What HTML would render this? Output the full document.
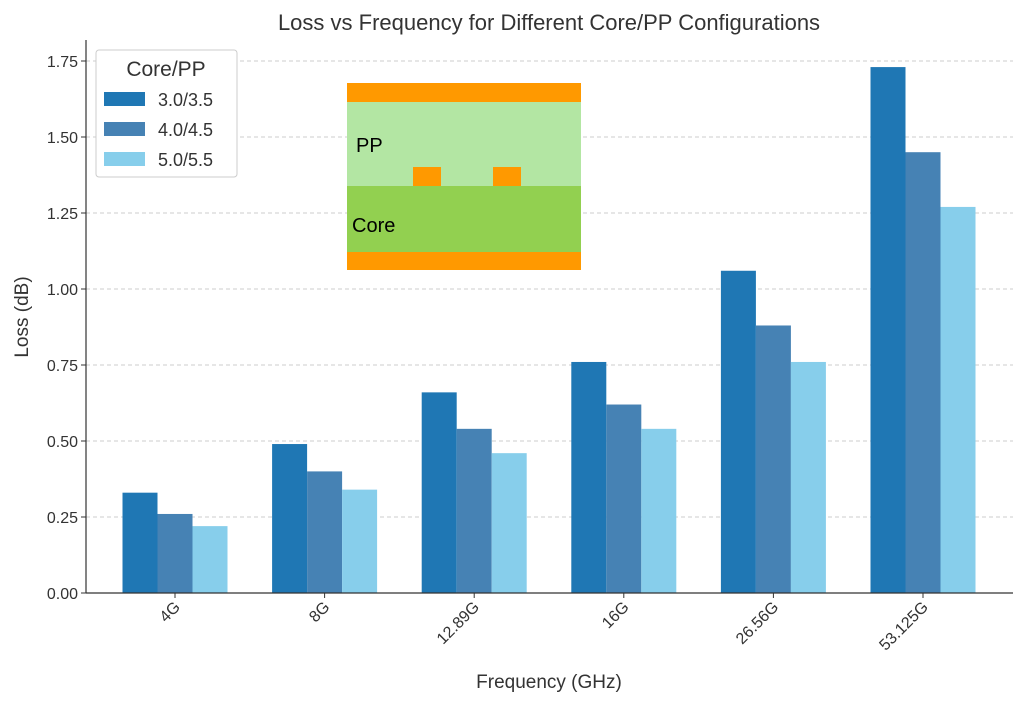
<!DOCTYPE html>
<html><head><meta charset="utf-8"><style>
body{margin:0;background:#fff}
svg{display:block;font-family:"Liberation Sans","DejaVu Sans",sans-serif}
</style></head><body>
<svg id="chart" width="1024" height="705">
<rect width="1024" height="705" fill="#fff"/>
<g id="grid"></g><g id="bars"></g><g id="axes"></g>
<g>
<rect x="347" y="83" width="234" height="19" fill="#ff9900"/>
<rect x="347" y="102" width="234" height="84" fill="#b3e6a3"/>
<rect x="347" y="186" width="234" height="66" fill="#92d050"/>
<rect x="347" y="252" width="234" height="18" fill="#ff9900"/>
<rect x="413" y="167" width="28" height="19" fill="#ff9900"/>
<rect x="493" y="167" width="28" height="19" fill="#ff9900"/>
<text x="356" y="152" font-size="20" fill="#000">PP</text>
<text x="352" y="232" font-size="20" fill="#000">Core</text>
</g>
<g>
<rect x="96" y="50" width="141" height="127" rx="3" fill="#fff" stroke="#ccc"/>
<text x="166" y="76" font-size="21" text-anchor="middle" fill="#333">Core/PP</text>
<rect x="104" y="92" width="41" height="14" fill="#1f77b4"/><text x="158" y="106" font-size="18" fill="#333">3.0/3.5</text>
<rect x="104" y="122" width="41" height="14" fill="#4682b4"/><text x="158" y="136" font-size="18" fill="#333">4.0/4.5</text>
<rect x="104" y="152" width="41" height="14" fill="#87ceeb"/><text x="158" y="166" font-size="18" fill="#333">5.0/5.5</text>
</g>
<text x="549" y="30" font-size="22" text-anchor="middle" fill="#333">Loss vs Frequency for Different Core/PP Configurations</text>
<text x="549" y="688" font-size="19" text-anchor="middle" fill="#333">Frequency (GHz)</text>
<text transform="translate(28,317) rotate(-90)" font-size="19" text-anchor="middle" fill="#333">Loss (dB)</text>
</svg>
<script>
const categories=["4G","8G","12.89G","16G","26.56G","53.125G"];
const seriesA=[0.33,0.49,0.66,0.76,1.06,1.73];
const seriesB=[0.26,0.40,0.54,0.62,0.88,1.45];
const seriesC=[0.22,0.34,0.46,0.54,0.76,1.27];
const yTicks=[0,0.25,0.5,0.75,1.0,1.25,1.5,1.75];
const NS="http://www.w3.org/2000/svg";
const y=v=>593-v*304;
const xc=i=>175+i*149.6;
const bw=35;
function mk(t,a,p){const e=document.createElementNS(NS,t);for(const k in a)e.setAttribute(k,a[k]);p.appendChild(e);return e;}
const grid=document.getElementById('grid'),bars=document.getElementById('bars'),axes=document.getElementById('axes');
yTicks.forEach(v=>{
 const l=mk('line',{x1:86,x2:1013,y1:y(v),y2:y(v),stroke:'#ccc','stroke-dasharray':'4,3'},grid);
 
 
 mk('line',{x1:81,x2:86,y1:y(v),y2:y(v),stroke:'#333'},axes);
 const t=mk('text',{x:78,y:y(v)+6,'font-size':16,'text-anchor':'end',fill:'#333'},axes);
 t.textContent=v.toFixed(2);
 
 
});
const series=[[seriesA,'#1f77b4'],[seriesB,'#4682b4'],[seriesC,'#87ceeb']];
categories.forEach((c,i)=>{
 series.forEach(([s,col],j)=>{
  const r=mk('rect',{x:xc(i)+(j-1.5)*bw,y:y(s[i]),width:bw,height:y(0)-y(s[i]),fill:col},bars);
  
  
 });
 mk('line',{x1:xc(i),x2:xc(i),y1:593,y2:598,stroke:'#333'},axes);
 const t=mk('text',{transform:`translate(${xc(i)+6},${608}) rotate(-45)`,'font-size':16,'text-anchor':'end',fill:'#333'},axes);
 t.textContent=c;
 
 
});
mk('line',{x1:86,x2:86,y1:40,y2:593,stroke:'#333','stroke-width':1.2},axes);
mk('line',{x1:86,x2:1013,y1:593,y2:593,stroke:'#333','stroke-width':1.2},axes);
</script>
</body></html>
